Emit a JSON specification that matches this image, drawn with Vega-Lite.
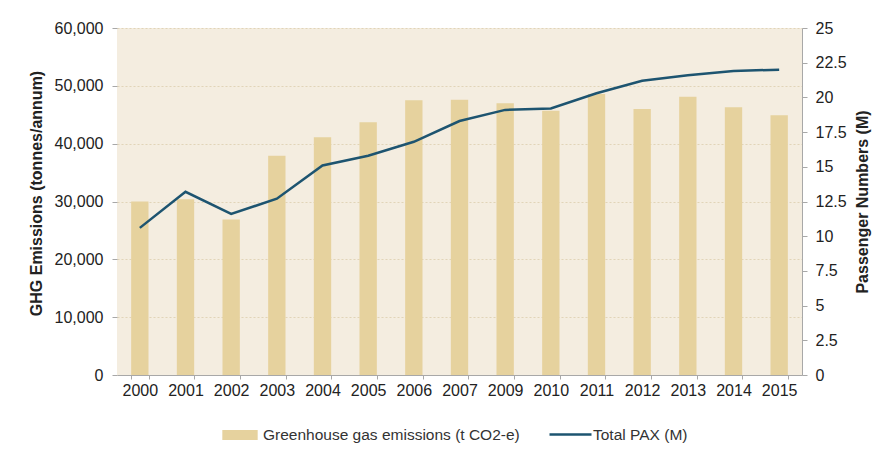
{
  "$schema": "https://vega.github.io/schema/vega-lite/v6.json",
  "width": 685,
  "height": 347,
  "autosize": {"type": "none"},
  "padding": {"left": 117, "top": 28, "right": 88, "bottom": 82},
  "background": "white",
  "config": {
    "font": "Liberation Sans",
    "view": {"fill": "#F4EDE0", "stroke": null},
    "axis": {"labelFont": "Liberation Sans", "titleFont": "Liberation Sans", "labelFontSize": 16, "labelColor": "#222222", "titleColor": "#222222", "titleFontSize": 16, "titleFontWeight": "bold", "domainColor": "#A8A8A8", "tickColor": "#A8A8A8", "labelOverlap": false},
    "legend": {"labelFont": "Liberation Sans", "labelFontSize": 15.5, "labelColor": "#333333", "labelLimit": 400}
  },
  "data": {
    "values": [
      {"year": "2000", "ghg": 30000, "pax": 10.6},
      {"year": "2001", "ghg": 30400, "pax": 13.2},
      {"year": "2002", "ghg": 26900, "pax": 11.6},
      {"year": "2003", "ghg": 37900, "pax": 12.7},
      {"year": "2004", "ghg": 41100, "pax": 15.1},
      {"year": "2005", "ghg": 43700, "pax": 15.8},
      {"year": "2006", "ghg": 47500, "pax": 16.8},
      {"year": "2007", "ghg": 47600, "pax": 18.3},
      {"year": "2009", "ghg": 47000, "pax": 19.1},
      {"year": "2010", "ghg": 45700, "pax": 19.2},
      {"year": "2011", "ghg": 48600, "pax": 20.3},
      {"year": "2012", "ghg": 46000, "pax": 21.2},
      {"year": "2013", "ghg": 48100, "pax": 21.6},
      {"year": "2014", "ghg": 46300, "pax": 21.9},
      {"year": "2015", "ghg": 44900, "pax": 22.0}
    ]
  },
  "encoding": {
    "x": {
      "field": "year",
      "type": "ordinal",
      "scale": {"paddingInner": 0.62, "paddingOuter": 0.31},
      "axis": {"title": null, "labelAngle": 0, "labelPadding": 3, "tickBand": "extent", "tickSize": 4, "domainColor": "#A8A8A8"}
    }
  },
  "layer": [
    {
      "mark": {"type": "bar", "color": "#E6D29E"},
      "encoding": {
        "y": {
          "field": "ghg",
          "type": "quantitative",
          "scale": {"domain": [0, 60000]},
          "axis": {"title": "GHG Emissions  (tonnes/annum)", "values": [0, 10000, 20000, 30000, 40000, 50000, 60000], "format": ",.0f", "grid": true, "gridColor": "#DCCDAE", "gridDash": [2, 2], "gridOpacity": 0.8, "domain": false, "tickSize": 5, "labelPadding": 9, "titlePadding": 10, "titleY": 165}
        },
        "color": {
          "datum": "Greenhouse gas emissions (t CO2-e)",
          "scale": {"range": ["#E6D29E"]},
          "legend": {"title": null, "orient": "none", "legendX": 105, "legendY": 389, "symbolType": "M-1,-0.28H1V0.28H-1Z", "symbolSize": 1250, "symbolStrokeWidth": 0, "symbolOpacity": 1, "labelOffset": 5}
        }
      }
    },
    {
      "mark": {"type": "line", "color": "#1D5470", "strokeWidth": 2.5},
      "encoding": {
        "y": {
          "field": "pax",
          "type": "quantitative",
          "scale": {"domain": [0, 25]},
          "axis": {"title": "Passenger Numbers (M)", "orient": "right", "values": [0, 2.5, 5, 7.5, 10, 12.5, 15, 17.5, 20, 22.5, 25], "format": ".3~g", "grid": false, "tickSize": 5, "labelPadding": 8, "titleAngle": 270, "titleBaseline": "top", "titlePadding": 8}
        },
        "stroke": {
          "datum": "Total PAX (M)",
          "scale": {"range": ["#1D5470"]},
          "legend": {"title": null, "orient": "none", "legendX": 431, "legendY": 384, "symbolType": "stroke", "symbolSize": 1764, "symbolStrokeWidth": 2.5, "labelOffset": 0}
        }
      }
    }
  ],
  "resolve": {"scale": {"y": "independent", "color": "independent"}}
}
